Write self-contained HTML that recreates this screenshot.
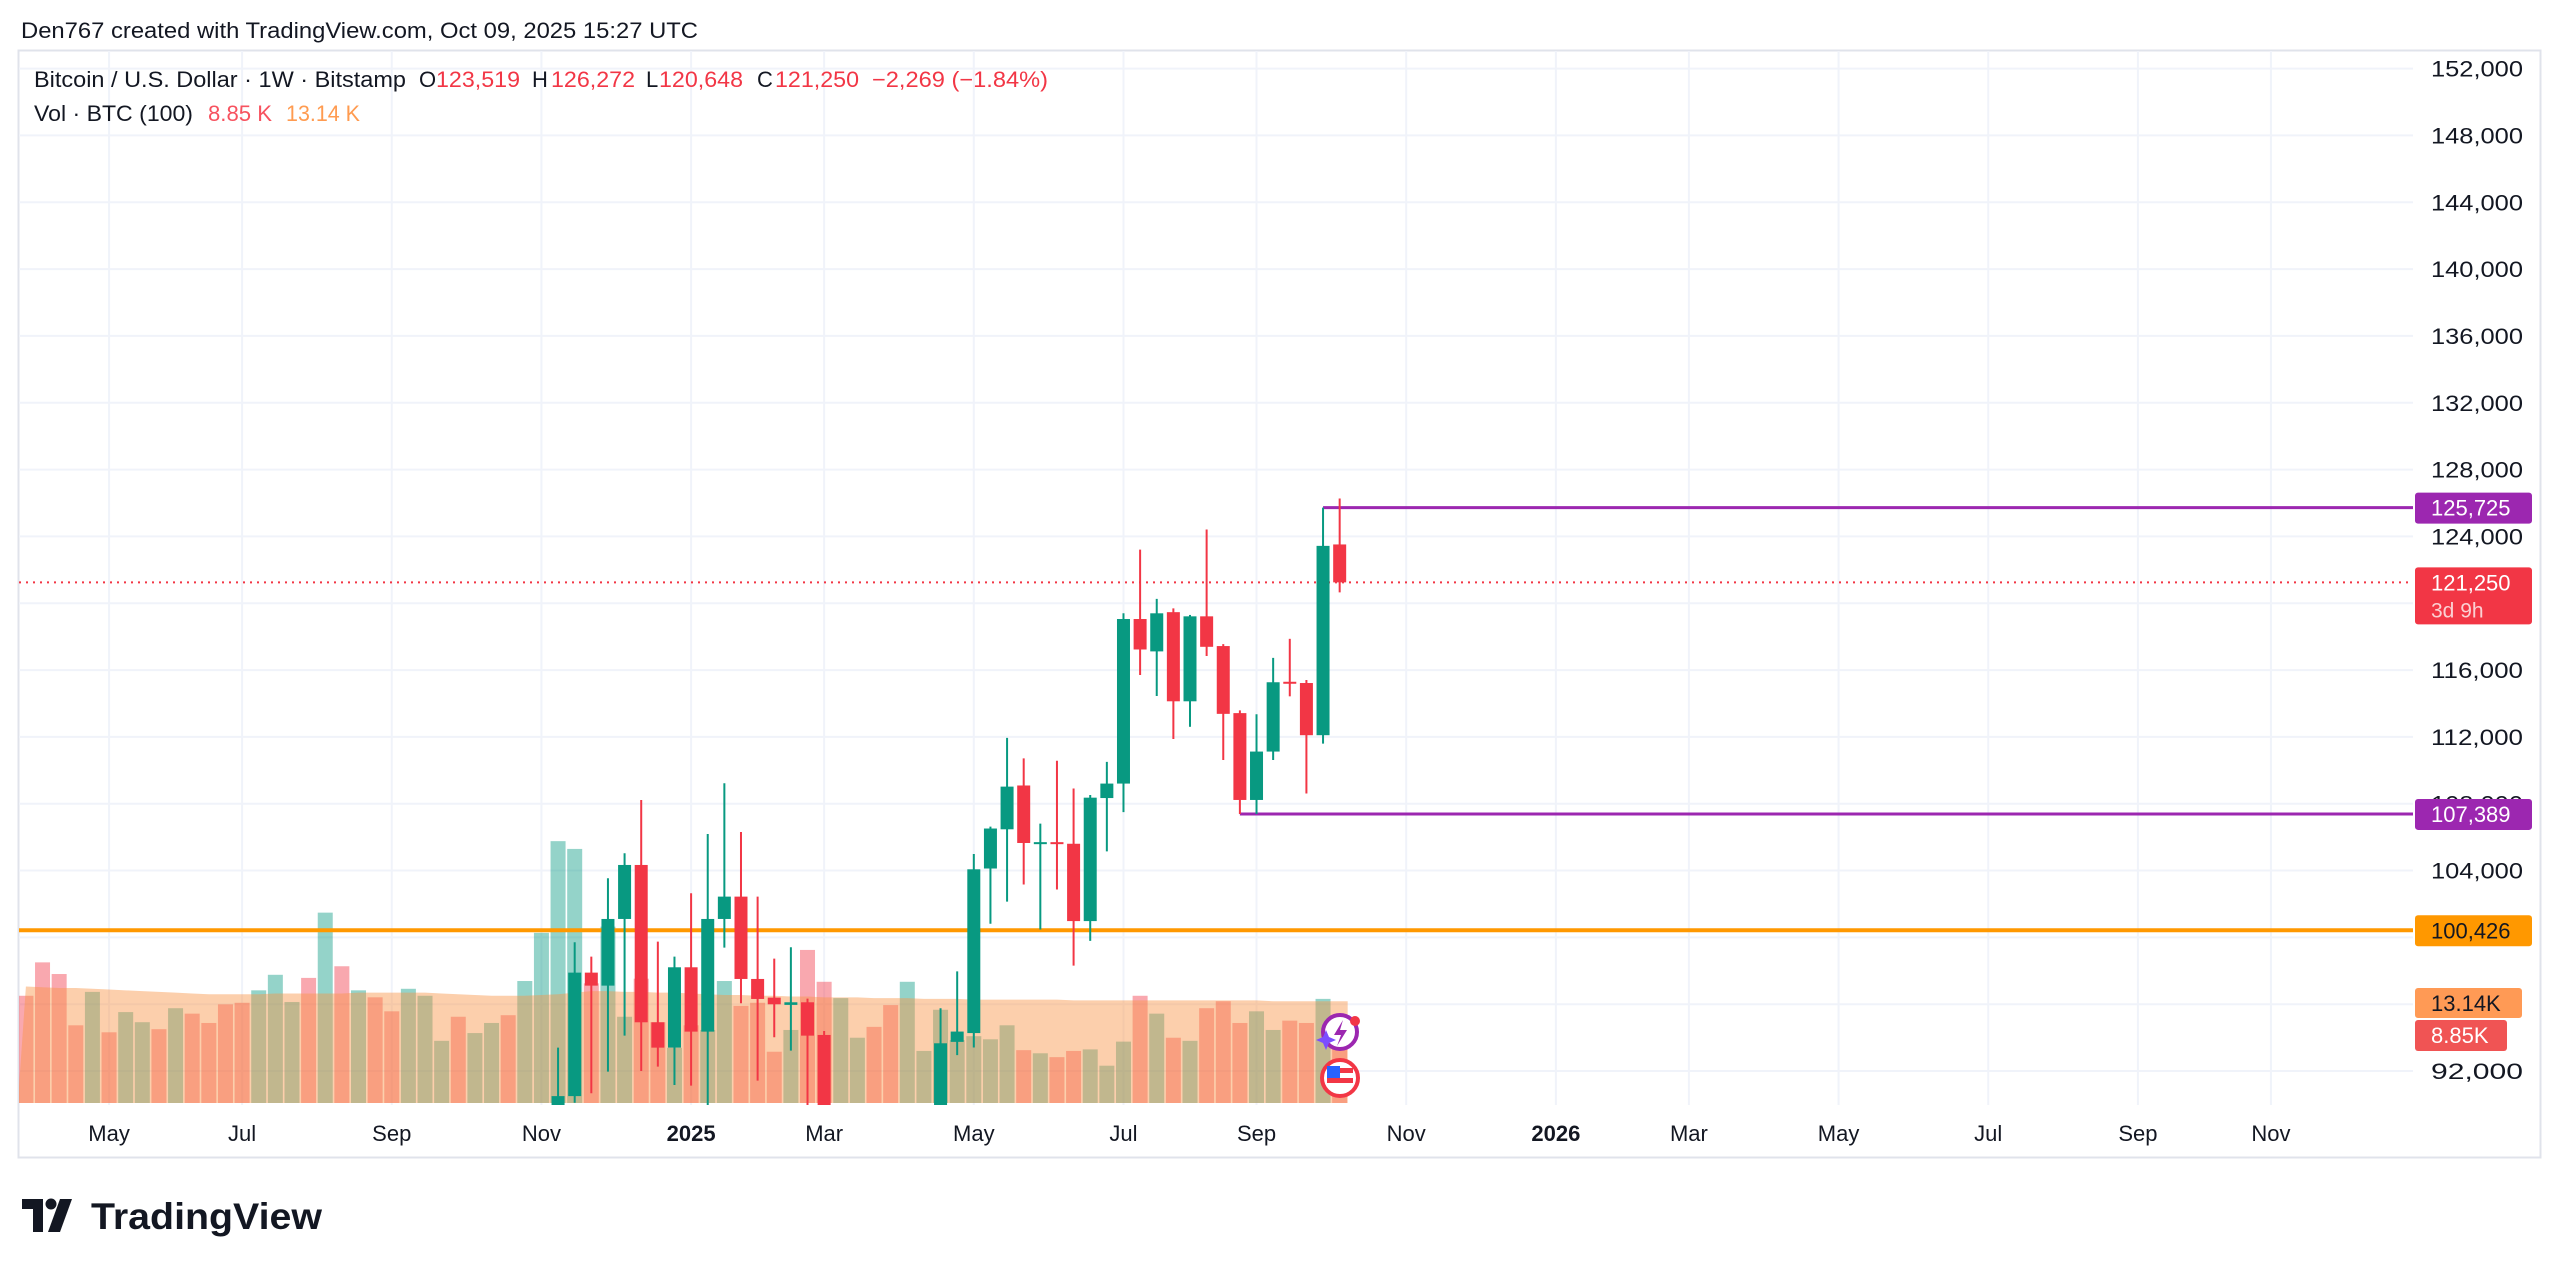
<!DOCTYPE html>
<html><head><meta charset="utf-8">
<style>
html,body{margin:0;padding:0;background:#fff;width:2560px;height:1271px;overflow:hidden;}
svg{display:block;font-family:"Liberation Sans",Arial,sans-serif;}
</style></head>
<body>
<svg id="chart" width="2560" height="1271" viewBox="0 0 2560 1271" xmlns="http://www.w3.org/2000/svg">
  <defs>
    <clipPath id="plotClip"><rect x="19" y="50" width="2394" height="1055"/></clipPath>
  </defs>
  <rect x="0" y="0" width="2560" height="1271" fill="#ffffff"/>
  <text x="21" y="38" font-size="22" fill="#131722" textLength="677" lengthAdjust="spacingAndGlyphs">Den767 created with TradingView.com, Oct 09, 2025 15:27 UTC</text>
  <rect x="18.5" y="50.5" width="2522" height="1107" fill="none" stroke="#e0e3eb" stroke-width="2"/>
  <g id="grid"></g>
  <g id="volume" clip-path="url(#plotClip)"></g>
  <g id="lines" clip-path="url(#plotClip)"></g>
  <g id="candles" clip-path="url(#plotClip)"></g>
  <g id="axis"></g>
  <g id="taxis"></g>

  <g font-size="22">
    <text x="34" y="87" fill="#131722" textLength="372" lengthAdjust="spacingAndGlyphs">Bitcoin / U.S. Dollar · 1W · Bitstamp</text>
    <text x="419" y="87" fill="#131722">O</text>
    <text x="436" y="87" fill="#f23645" textLength="84" lengthAdjust="spacingAndGlyphs">123,519</text>
    <text x="532" y="87" fill="#131722">H</text>
    <text x="551" y="87" fill="#f23645" textLength="84" lengthAdjust="spacingAndGlyphs">126,272</text>
    <text x="646" y="87" fill="#131722">L</text>
    <text x="659" y="87" fill="#f23645" textLength="84" lengthAdjust="spacingAndGlyphs">120,648</text>
    <text x="757" y="87" fill="#131722">C</text>
    <text x="775" y="87" fill="#f23645" textLength="84" lengthAdjust="spacingAndGlyphs">121,250</text>
    <text x="872" y="87" fill="#f23645" textLength="176" lengthAdjust="spacingAndGlyphs">−2,269 (−1.84%)</text>
    <text x="34" y="121" fill="#131722" textLength="159" lengthAdjust="spacingAndGlyphs">Vol · BTC (100)</text>
    <text x="208" y="121" fill="#f7525f" textLength="64" lengthAdjust="spacingAndGlyphs">8.85 K</text>
    <text x="286" y="121" fill="#ff9b50" textLength="74" lengthAdjust="spacingAndGlyphs">13.14 K</text>
  </g>

  <g>
    <circle cx="1340" cy="1032" r="17" fill="#fff" stroke="#9c27b0" stroke-width="4"/>
    <path d="M1343 1020 L1334 1035 L1341 1035 L1337 1046 L1347 1030 L1340 1030 Z" fill="#9c27b0"/>
    <path d="M1326 1030 L1329 1037 L1336 1040 L1329 1043 L1326 1050 L1323 1043 L1316 1040 L1323 1037 Z" fill="#7c4dff"/>
    <circle cx="1355" cy="1021" r="5" fill="#f23645"/>
    <circle cx="1340" cy="1078" r="18" fill="#fff" stroke="#f23645" stroke-width="4"/>
    <rect x="1327" y="1068" width="26" height="5" fill="#f23645"/>
    <rect x="1327" y="1078" width="26" height="5" fill="#f23645"/>
    <rect x="1327" y="1066" width="13" height="12" fill="#2962ff"/>
  </g>

  <g>
    <path d="M22 1199 H43 V1232 H33 V1209 H22 Z" fill="#131722"/>
    <circle cx="51" cy="1204" r="5.5" fill="#131722"/>
    <path d="M60 1199 H72 L60 1232 H48 Z" fill="#131722"/>
    <text x="91" y="1229" font-size="37" font-weight="bold" fill="#131722" textLength="231" lengthAdjust="spacingAndGlyphs">TradingView</text>
  </g>
</svg>
<script>
// ---------- data ----------
const volumeK = [13.8,18.1,16.6,10.0,14.3,9.1,11.7,10.4,9.5,12.2,11.5,10.3,12.7,12.9,14.5,16.5,13.0,16.1,24.5,17.6,14.5,13.6,11.8,14.7,13.8,8.0,11.1,9.0,10.3,11.3,15.7,21.9,33.7,32.7,15.4,22.7,11.1,16.0,10.4,7.1,10.0,9.4,
 15.7,12.5,12.9,6.6,9.4,19.7,15.6,13.5,8.4,9.8,12.6,15.6,6.7,12.0,8.1,8.6,8.2,10.0,6.8,6.4,5.9,6.7,6.9,4.8,7.9,13.8,11.5,8.4,8.0,12.2,13.1,10.3,11.8,9.4,10.6,10.3,13.4,8.85];
const volumeMA = [15.0,14.9,14.8,14.8,14.7,14.6,14.5,14.4,14.3,14.2,14.1,14.0,14.0,14.0,14.0,14.1,14.1,14.1,14.1,14.1,14.2,14.2,14.2,14.2,14.2,14.1,14.0,13.9,13.8,13.8,13.8,13.9,14.0,14.2,14.4,14.4,14.3,14.3,14.2,14.2,14.1,14.0,13.9,13.9,13.8,13.8,13.7,13.7,13.6,13.6,13.6,13.5,13.5,13.5,13.4,13.4,13.4,13.3,13.3,13.3,13.3,13.3,13.3,13.2,13.2,13.2,13.2,13.2,13.2,13.2,13.2,13.2,13.2,13.2,13.2,13.1,13.1,13.1,13.1,13.1];
const earlyUp = [0,0,0,0,1,0,1,1,0,1,0,0,0,0,1,1,1,0,1,0,1,0,0,1,1,1,0,1,1,0,1,1];
const firstCandleIndex = 32;
const O = [80400,90500,97891,97113,101103,104335,94919,93402,98211,94360,101103,102440,97512,96395,95960,96116,94160,80700,82600,86100,82400,78400,83700,87500,93747,94273,104122,106470,109092,105650,105700,105604,100976,108340,109206,119056,117118,119466,114131,119216,117437,113424,108226,111122,115300,115225,112102,123519];
const H = [93400,99707,98850,103537,105033,108225,99747,98850,102640,106190,109223,106310,102440,98729,99408,96335,94400,85300,87500,88800,88500,86100,87700,95757,97966,104988,106630,111942,110711,106812,110574,108910,108522,110506,119398,123206,120264,119694,119300,124414,117551,113584,113356,116730,117870,115408,125725,126272];
const L = [80200,90100,90670,91966,94120,92006,92265,91168,91128,89200,99388,96056,91427,94021,93222,78200,80000,76600,81200,81600,77000,74400,83100,87000,92950,93407,100816,102138,103164,100474,102868,98308,99790,105148,107496,115704,114451,111874,112604,116844,110620,107389,107389,110620,114428,108614,111600,120648];
const C = [90500,97891,97113,101103,104335,94919,93402,98211,94360,101103,102440,97512,96315,95996,96116,94120,80700,82600,86100,82400,78400,83700,87500,93662,94363,104076,106516,109024,105650,105700,105650,100976,108363,109206,119056,117232,119398,114131,119216,117392,113379,108226,111122,115271,115250,112102,123434,121250];
const priceTicks = [152000,148000,144000,140000,136000,132000,128000,124000,116000,112000,108000,104000,92000];
const gridPrices = [152000,148000,144000,140000,136000,132000,128000,124000,120000,116000,112000,108000,104000,100000,96000,92000];
const monthLabels = ["May","Jul","Sep","Nov","2025","Mar","May","Jul","Sep","Nov","2026","Mar","May","Jul","Sep","Nov"];
const monthBarIndex = [5,13,22,31,40,48,57,66,74,83,92,100,109,118,127,135];
const lastPrice = 121250, rangeHigh = 125725, rangeLow = 107389, levelPrice = 100426;
const highStartIndex = 78, lowStartIndex = 73;

// ---------- axes ----------
const NS = "http://www.w3.org/2000/svg";
const x0 = 25.9, step = 16.63;
const xOf = i => x0 + i * step;
const py = p => 68.6 + (152000 - p) / 4000 * 66.83;
const volBase = 1103, volPxPerK = 7.77;
const vy = v => volBase - v * volPxPerK;
const plotRight = 2413;
function mk(tag, attrs, parent){ const e=document.createElementNS(NS,tag); for(const k in attrs) e.setAttribute(k,attrs[k]); parent.appendChild(e); return e; }
const gGrid=document.getElementById('grid'), gVol=document.getElementById('volume'), gLines=document.getElementById('lines'), gC=document.getElementById('candles'), gAx=document.getElementById('axis'), gT=document.getElementById('taxis');

gridPrices.forEach(p=>{
  const l=mk('line',{x1:19,x2:plotRight,y1:py(p),y2:py(p),stroke:'#f0f3fa','stroke-width':2},gGrid);
  
  
});
monthBarIndex.forEach((bi,k)=>{
  const x=xOf(bi);
  const l=mk('line',{x1:x,x2:x,y1:51,y2:1105,stroke:'#f0f3fa','stroke-width':2},gGrid);
  
  
  const isYear=/^\d{4}$/.test(monthLabels[k]);
  const t=mk('text',{x:x,y:1141,'text-anchor':'middle','font-size':22,fill:'#131722','font-weight':isYear?'bold':'normal'},gT);
  t.textContent=monthLabels[k];
  
  
});
priceTicks.forEach(p=>{
  const t=mk('text',{x:2431,y:py(p)+8,'font-size':22,fill:'#131722',textLength:92,lengthAdjust:'spacingAndGlyphs'},gAx);
  t.textContent=p.toLocaleString('en-US');
  
  
});

// ---------- volume ----------
volumeK.forEach((v,i)=>{
  let up;
  if(i<firstCandleIndex) up=earlyUp[i]===1; else { const j=i-firstCandleIndex; up=C[j]>=O[j]; }
  const b=mk('rect',{x:xOf(i)-7.5,y:vy(v),width:15,height:v*volPxPerK,fill:up?'#089981':'#f23645','fill-opacity':0.43},gVol);
  
  
});
let d='M'+(xOf(0)-8)+' '+volBase;
volumeMA.forEach((m,i)=>{ d+=' L'+xOf(i)+' '+vy(m); });
d+=' L'+(xOf(volumeMA.length-1)+8)+' '+vy(volumeMA[volumeMA.length-1])+' L'+(xOf(volumeMA.length-1)+8)+' '+volBase+' Z';
const ma=mk('path',{d:d,fill:'rgb(249,149,71)','fill-opacity':0.45},gVol);



// ---------- lines ----------
const dl=mk('line',{x1:19,x2:plotRight,y1:py(lastPrice),y2:py(lastPrice),stroke:'#f23645','stroke-width':2,'stroke-dasharray':'2 5'},gLines);


const ol=mk('line',{x1:19,x2:plotRight,y1:py(levelPrice),y2:py(levelPrice),stroke:'#ff9800','stroke-width':4},gLines);



// ---------- candles ----------
O.forEach((o,j)=>{
  const i=j+firstCandleIndex, x=xOf(i), up=C[j]>=o, col=up?'#089981':'#f23645';
  const w=mk('line',{x1:x,x2:x,y1:py(H[j]),y2:py(L[j]),stroke:col,'stroke-width':2},gC);
  
  
  const top=py(Math.max(o,C[j])), bot=py(Math.min(o,C[j]));
  const b=mk('rect',{x:x-6.5,y:top,width:13,height:Math.max(2,bot-top),fill:col},gC);
  
  
});
const hl=mk('line',{x1:xOf(highStartIndex),x2:plotRight,y1:py(rangeHigh),y2:py(rangeHigh),stroke:'#9c27b0','stroke-width':3},gLines);


const ll=mk('line',{x1:xOf(lowStartIndex),x2:plotRight,y1:py(rangeLow),y2:py(rangeLow),stroke:'#9c27b0','stroke-width':3},gLines);



// ---------- axis badges ----------
function badge(name,y,h,w,fill,txt,tc,sub){
  const r=mk('rect',{x:2415,y:y,width:w,height:h,rx:3,fill:fill},gAx);
  
  
  const t=mk('text',{x:2431,y:y+23,'font-size':22,fill:tc},gAx);
  t.textContent=txt;
  
  
  if(sub){ const s=mk('text',{x:2431,y:y+50,'font-size':21,fill:'#fbd0d3'},gAx); s.textContent=sub;
    
     }
}
badge('range-high-badge',py(rangeHigh)-15,31,117,'#9c27b0','125,725','#ffffff');
badge('last-price-badge',py(lastPrice)-15,57,117,'#f23645','121,250','#ffffff','3d 9h');
badge('range-low-badge',py(rangeLow)-15,31,117,'#9c27b0','107,389','#ffffff');
badge('support-badge',py(levelPrice)-15,31,117,'#ff9800','100,426','#131722');
badge('volume-ma-badge',988,30,107,'#ff9a55','13.14K','#131722');
badge('volume-badge',1020,31,92,'#f05454','8.85K','#ffffff');
</script>
</body></html>
